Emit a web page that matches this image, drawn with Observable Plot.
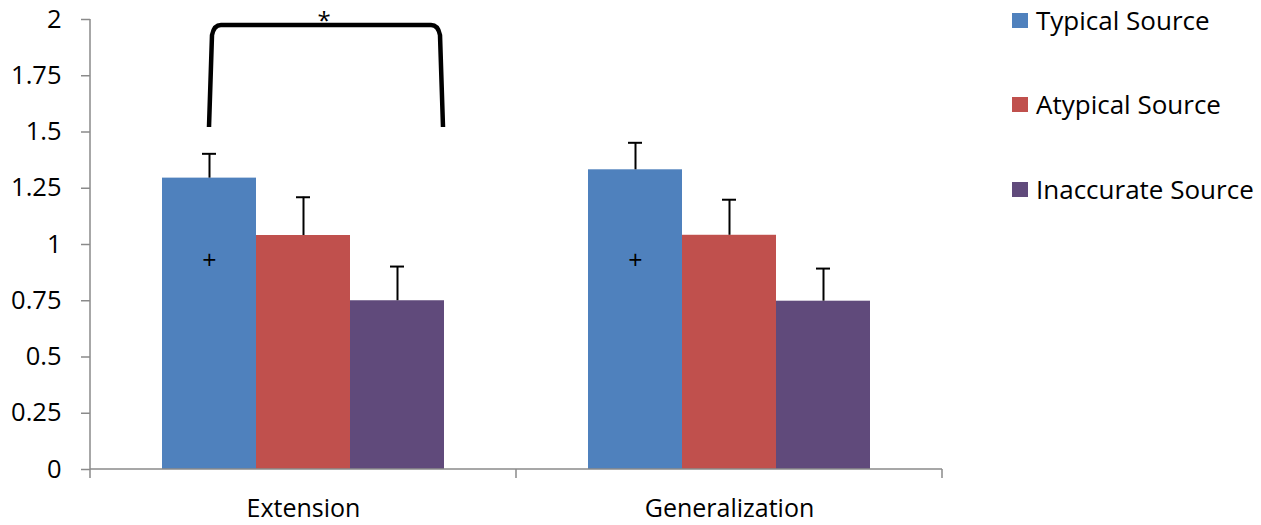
<!DOCTYPE html>
<html><head><meta charset="utf-8">
<script src="https://cdn.jsdelivr.net/npm/d3@7"></script>
<script src="https://cdn.jsdelivr.net/npm/@observablehq/plot@0.6"></script>
<style>
html,body{margin:0;padding:0;background:#fff;}
#wrap{position:relative;width:1261px;height:525px;font-family:"Open Sans",Lato,sans-serif;color:#000;}
#chart{position:absolute;left:0;top:0;}
#legend{position:absolute;left:1012px;top:0;}
.item{position:absolute;left:0;display:flex;align-items:center;white-space:nowrap;font-size:26px;transform:translateY(-50%);}
.sw{width:16px;height:15px;margin-right:8px;flex:none;}
</style></head><body>
<div id="wrap"><div id="chart"></div><div id="legend"></div></div>
<script>
// ---- data ----
const categories = ["Extension", "Generalization"];
const series = ["Typical Source", "Atypical Source", "Inaccurate Source"];
const typicalMeans = [1.295, 1.332];
const atypicalMeans = [1.04, 1.041];
const inaccurateMeans = [0.75, 0.748];
const typicalErr = [0.108, 0.12];
const atypicalErr = [0.17, 0.158];
const inaccurateErr = [0.152, 0.145];
const plusMarks = [0.925, 0.925]; // "+" on Typical Source bars
const yTicks = [0, 0.25, 0.5, 0.75, 1, 1.25, 1.5, 1.75, 2];
const bracket = {category: "Extension", from: "Typical Source", to: "Inaccurate Source", bottom: 1.52, top: 1.973, label: "*"};

// ---- style ----
const colors = ["#4F81BD", "#C0504D", "#604A7B"];
const axisColor = "#8a8a8a";
const font = "'Open Sans', Lato, sans-serif";

const meansBySeries = [typicalMeans, atypicalMeans, inaccurateMeans];
const errBySeries = [typicalErr, atypicalErr, inaccurateErr];
const rows = [];
categories.forEach((c, ci) => series.forEach((s, si) => rows.push({category: c, series: s, value: meansBySeries[si][ci], err: errBySeries[si][ci]})));
const plusRows = categories.map((c, ci) => ({category: c, series: series[0], value: plusMarks[ci]}));

const plot = Plot.plot({
  width: 990, height: 525,
  marginLeft: 90, marginRight: 48, marginTop: 19, marginBottom: 56,
  style: {fontFamily: font, background: "transparent", color: "#000"},
  fx: {domain: categories, padding: 0, label: null},
  x: {domain: series, paddingInner: 0, paddingOuter: 0.758, axis: null},
  y: {domain: [0, 2], label: null},
  color: {domain: series, range: colors},
  marks: [
    Plot.axisY({ticks: yTicks, tickFormat: d => String(d), tickSize: 9, tickPadding: 20, stroke: axisColor, strokeWidth: 1.5, fontSize: 25.5, label: null}),
    Plot.axisFx({anchor: "bottom", tickSize: 0, tickPadding: 30, fontSize: 25, label: null}),
    Plot.barY(rows, {fx: "category", x: "series", y: "value", fill: "series"}),
    Plot.ruleX(rows, {fx: "category", x: "series", y1: "value", y2: d => d.value + d.err, stroke: "#000", strokeWidth: 2}),
    Plot.tickY(rows, {fx: "category", x: "series", y: d => d.value + d.err, stroke: "#000", strokeWidth: 2, insetLeft: 40, insetRight: 40}),
    Plot.text(plusRows, {fx: "category", x: "series", y: "value", text: () => "+", fontSize: 25})
  ]
});
document.getElementById("chart").appendChild(plot);

// ---- axis lines & bracket from the plot's scales ----
const fxS = plot.scale("fx"), xS = plot.scale("x"), yS = plot.scale("y");
const svg = d3.select(plot);
const left = fxS.range[0], right = fxS.range[1];
const y0 = yS.apply(0), yTop = yS.apply(2);
const g = svg.append("g").attr("stroke", axisColor).attr("stroke-width", 1.5);
g.append("line").attr("x1", left).attr("x2", left).attr("y1", yTop).attr("y2", y0);
g.append("line").attr("x1", left).attr("x2", right).attr("y1", y0).attr("y2", y0);
[...categories.map(c => fxS.apply(c)), right].forEach(b =>
  g.append("line").attr("x1", b).attr("x2", b).attr("y1", y0).attr("y2", y0 + 9));

const xOff = s => xS.apply(s) - xS.range[0];
const bw = xS.bandwidth;
const fxl = fxS.apply(bracket.category);
const xl = fxl + xOff(bracket.from) + bw / 2;
const xr = fxl + xOff(bracket.to) + bw - 1;
const yb = yS.apply(bracket.bottom), yt = yS.apply(bracket.top);
svg.append("path")
  .attr("d", `M${xl},${yb} L${xl + 3},${yt + 10} Q${xl + 5},${yt} ${xl + 12},${yt} L${xr - 12},${yt} Q${xr - 5},${yt} ${xr - 3},${yt + 10} L${xr},${yb}`)
  .attr("fill", "none").attr("stroke", "#000").attr("stroke-width", 4.5);
svg.append("text").attr("x", (xl + xr) / 2 - 2).attr("y", yt + 4).attr("text-anchor", "middle")
  .attr("font-size", 24).attr("fill", "#000").text(bracket.label);

// ---- legend ----
const legendY = [20, 104, 189];
const legend = document.getElementById("legend");
series.forEach((s, i) => {
  const it = document.createElement("div");
  it.className = "item";
  it.style.top = legendY[i] + "px";
  it.innerHTML = `<span class="sw" style="background:${colors[i]}"></span><span>${s}</span>`;
  legend.appendChild(it);
});
</script>
</body></html>
